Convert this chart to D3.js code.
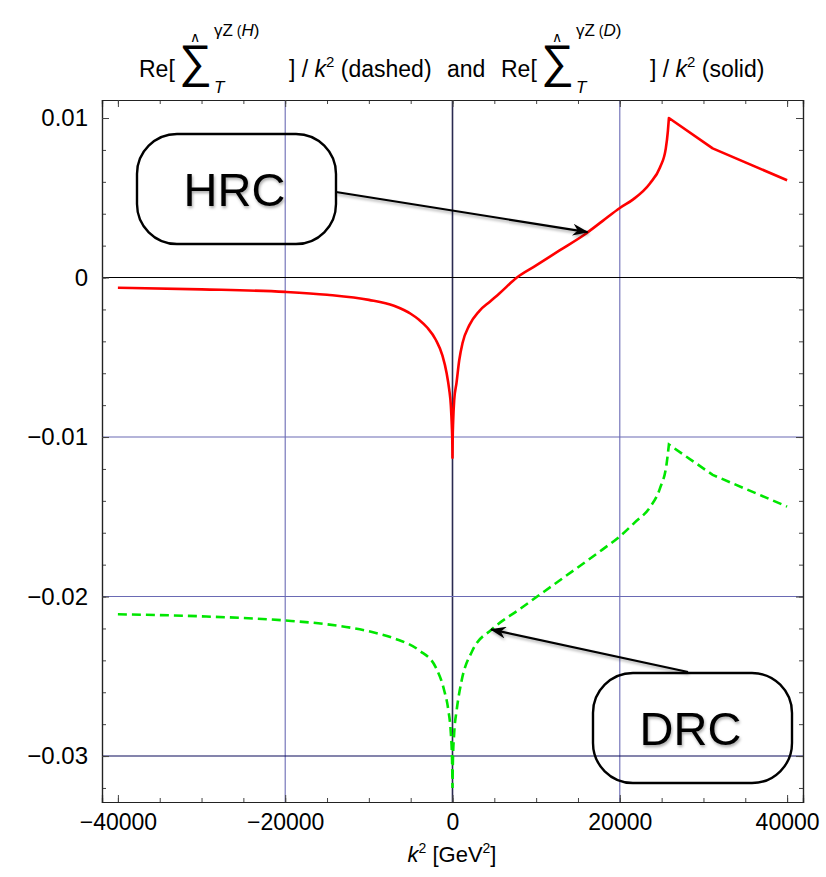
<!DOCTYPE html>
<html>
<head>
<meta charset="utf-8">
<script src="https://cdn.jsdelivr.net/npm/d3@7"></script>
<style>
  html, body { margin: 0; padding: 0; background: #fff; }
  svg { display: block; }
  text { font-family: "Liberation Sans", Arial, Helvetica, sans-serif; }
</style>
</head>
<body>
<svg id="chart" width="826" height="877"></svg>
<script>
// k^2 sample points [GeV^2] and Re[Sigma_T^{gammaZ}]/k^2 values
const solidK = [-40000, -30000, -20000, -15000, -10000, -7000, -5000, -4000, -3000, -2000, -1200, -700, -400, -200, -80, -20, 0,
                20, 80, 200, 480, 800, 1200, 2000, 3200, 4500, 5600, 7700, 10000, 12800, 15800, 17960, 20000, 21600, 23600, 24800, 25500, 25750, 25870,
                31100, 40000];
const solidV = [-0.00064, -0.00074, -0.0009, -0.00108, -0.0014, -0.00177, -0.00227, -0.00265, -0.00315, -0.0039, -0.0049, -0.006, -0.007, -0.008, -0.0093, -0.0104, -0.0113,
                -0.0102, -0.009, -0.0077, -0.0066, -0.0052, -0.0041, -0.003, -0.0021, -0.0015, -0.001, 0.0, 0.00076, 0.0017, 0.0027, 0.00355, 0.00436, 0.0049, 0.0059, 0.0069, 0.0081, 0.0092, 0.0100,
                0.0081, 0.0061];

const dashedK = [-40000, -30000, -20000, -15000, -10000, -7000, -4000, -2000, -1000, -500, -200, -50, 0,
                 50, 200, 500, 1100, 2400, 4700, 8000, 12800, 17960, 20000, 21800, 23600, 24800, 25600, 25870,
                 31100, 40000];
const dashedV = [-0.02111, -0.02124, -0.0215, -0.02174, -0.02218, -0.02262, -0.02337, -0.02444, -0.02587, -0.02712, -0.02857, -0.03026, -0.03201,
                 -0.03026, -0.02857, -0.02712, -0.02525, -0.02337, -0.02206, -0.0208, -0.01899, -0.01704, -0.01623, -0.01535, -0.01441, -0.01322, -0.01166, -0.01047,
                 -0.01237, -0.01436];

const xTicks = [-40000, -20000, 0, 20000, 40000];
const xTickLabels = ["\u221240000", "\u221220000", "0", "20000", "40000"];
const yTicks = [0.01, 0, -0.01, -0.02, -0.03];
const yTickLabels = ["0.01", "0", "\u22120.01", "\u22120.02", "\u22120.03"];

// grid lines: position and colour
const xGrid = [-20000, 0, 20000];
const xGridColor = ["#6a6ab4", "#2a2a50", "#6a6ab4"];
const yGrid = [0, -0.01, -0.02, -0.03];
const yGridColor = ["#000000", "#6a6ab4", "#6a6ab4", "#0a0a5a"];

// the curves are smooth except at the cusp k^2 = 0 and the threshold kinks
const kinks = [0, 25870, 31100];

const frame = { left: 102, right: 803, top: 100, bottom: 802 };

const svg = d3.select("#chart");

const x = d3.scaleLinear().domain([-41900, 41900]).range([frame.left, frame.right]);
const y = d3.scaleLinear().domain([-0.03288, 0.01113]).range([frame.bottom, frame.top]);

const defs = svg.append("defs");
defs.append("clipPath").attr("id", "plotClip")
  .append("rect")
  .attr("x", frame.left).attr("y", frame.top)
  .attr("width", frame.right - frame.left).attr("height", frame.bottom - frame.top);

const shadow = defs.append("filter").attr("id", "softShadow")
  .attr("x", "-20%").attr("y", "-20%").attr("width", "140%").attr("height", "160%");
shadow.append("feDropShadow")
  .attr("dx", 1).attr("dy", 2).attr("stdDeviation", 1.6)
  .attr("flood-color", "#000").attr("flood-opacity", 0.35);

defs.append("marker")
  .attr("id", "arrowHead")
  .attr("viewBox", "0 0 16 12")
  .attr("refX", 15).attr("refY", 6)
  .attr("markerWidth", 16).attr("markerHeight", 12)
  .attr("markerUnits", "userSpaceOnUse")
  .attr("orient", "auto")
  .append("path")
  .attr("d", "M0,0 L16,6 L0,12 L5,6 Z")
  .attr("fill", "#000");

// grid lines
const grid = svg.append("g").attr("clip-path", "url(#plotClip)");
grid.selectAll("line.xg").data(xGrid).join("line")
  .attr("x1", d => x(d)).attr("x2", d => x(d))
  .attr("y1", frame.top).attr("y2", frame.bottom)
  .attr("stroke", (d, i) => xGridColor[i])
  .attr("stroke-width", (d, i) => d === 0 ? 1.6 : 1.1);
grid.selectAll("line.yg").data(yGrid).join("line")
  .attr("y1", d => y(d)).attr("y2", d => y(d))
  .attr("x1", frame.left).attr("x2", frame.right)
  .attr("stroke", (d, i) => yGridColor[i])
  .attr("stroke-width", 1.1);

// curves: smooth pieces joined at the kinks into one path
const smooth = d3.line().x(d => x(d[0])).y(d => y(d[1])).curve(d3.curveMonotoneX);
function piecewisePath(ks, vs) {
  const pts = ks.map((k, i) => [k, vs[i]]);
  const cuts = [ks[0], ...kinks, ks[ks.length - 1]];
  let d = "";
  for (let j = 0; j < cuts.length - 1; j++) {
    const seg = pts.filter(p => p[0] >= cuts[j] && p[0] <= cuts[j + 1]);
    let s = smooth(seg);
    if (j > 0) s = "L" + s.slice(1);
    d += s;
  }
  return d;
}
const curves = svg.append("g").attr("clip-path", "url(#plotClip)");
curves.append("path")
  .attr("d", piecewisePath(dashedK, dashedV))
  .attr("fill", "none")
  .attr("stroke", "#00e600")
  .attr("stroke-width", 2.6)
  .attr("stroke-dasharray", "9,5");
curves.append("path")
  .attr("d", piecewisePath(solidK, solidV))
  .attr("fill", "none")
  .attr("stroke", "#ff0000")
  .attr("stroke-width", 2.6)
  .attr("stroke-linejoin", "round");

// frame with inward ticks on all four sides
const xMinor = d3.range(-40000, 40001, 5000);
const yMinor = d3.range(-32, 11, 2).map(v => v / 1000);

const axisG = svg.append("g");
axisG.append("g").attr("transform", `translate(0,${frame.bottom})`)
  .call(d3.axisBottom(x).tickValues(xMinor).tickSize(-4).tickFormat(""));
axisG.append("g").attr("transform", `translate(0,${frame.bottom})`)
  .call(d3.axisBottom(x).tickValues(xTicks).tickSize(-7).tickPadding(12)
    .tickFormat((d, i) => xTickLabels[i]))
  .selectAll(".tick text").attr("font-size", 23);
axisG.append("g").attr("transform", `translate(0,${frame.top})`)
  .call(d3.axisTop(x).tickValues(xMinor).tickSize(-4).tickFormat(""));
axisG.append("g").attr("transform", `translate(0,${frame.top})`)
  .call(d3.axisTop(x).tickValues(xTicks).tickSize(-7).tickFormat(""));
axisG.append("g").attr("transform", `translate(${frame.left},0)`)
  .call(d3.axisLeft(y).tickValues(yMinor).tickSize(-4).tickFormat(""));
axisG.append("g").attr("transform", `translate(${frame.left},0)`)
  .call(d3.axisLeft(y).tickValues(yTicks).tickSize(-7).tickPadding(14)
    .tickFormat((d, i) => yTickLabels[i]))
  .selectAll(".tick text").attr("font-size", 24);
axisG.append("g").attr("transform", `translate(${frame.right},0)`)
  .call(d3.axisRight(y).tickValues(yMinor).tickSize(-4).tickFormat(""));
axisG.append("g").attr("transform", `translate(${frame.right},0)`)
  .call(d3.axisRight(y).tickValues(yTicks).tickSize(-7).tickFormat(""));

axisG.selectAll(".domain").attr("stroke", "#222").attr("stroke-width", 1.2);
axisG.selectAll(".tick line").attr("stroke", "#444").attr("stroke-width", 1);
axisG.selectAll(".tick text")
  .attr("font-family", "'Liberation Sans', Arial, sans-serif")
  .attr("fill", "#000");

// x-axis title
const xt = svg.append("text")
  .attr("x", 452).attr("y", 862)
  .attr("text-anchor", "middle")
  .attr("font-size", 22);
xt.append("tspan").attr("font-style", "italic").text("k");
xt.append("tspan").attr("font-size", 14).attr("dy", -9).text("2");
xt.append("tspan").attr("dy", 9).text(" [GeV");
xt.append("tspan").attr("font-size", 14).attr("dy", -9).text("2");
xt.append("tspan").attr("dy", 9).text("]");

// title: Re[Σ̂_T^{γZ(H)}] / k² (dashed) and Re[Σ̂_T^{γZ(D)}] / k² (solid)
const title = svg.append("g").attr("font-size", 23);
function sigma(x0, tag) {
  title.append("text").attr("x", x0).attr("y", 77)
    .attr("font-family", "'DejaVu Sans', sans-serif")
    .attr("font-size", 46).text("\u2211");
  title.append("text").attr("x", x0 + 16).attr("y", 42).attr("font-size", 14)
    .attr("text-anchor", "middle").text("\u2227");
  const sup = title.append("text").attr("x", x0 + 35).attr("y", 36).attr("font-size", 17);
  sup.append("tspan").text("\u03B3Z");
  sup.append("tspan").attr("font-size", 14).text(" (");
  sup.append("tspan").attr("font-style", "italic").text(tag);
  sup.append("tspan").text(")");
  title.append("text").attr("x", x0 + 35).attr("y", 93).attr("font-size", 17)
    .attr("font-style", "italic").text("T");
}
function tail(x0, words) {
  const t = title.append("text").attr("x", x0).attr("y", 77);
  t.append("tspan").text("] / ");
  t.append("tspan").attr("font-style", "italic").text("k");
  t.append("tspan").attr("font-size", 15).attr("dy", -10).text("2");
  t.append("tspan").attr("dy", 10).text(words);
}
title.append("text").attr("x", 139).attr("y", 77).text("Re[");
sigma(179, "H");
tail(289, " (dashed)");
title.append("text").attr("x", 447).attr("y", 77).text("and");
title.append("text").attr("x", 501).attr("y", 77).text("Re[");
sigma(541, "D");
tail(650, " (solid)");

// call-outs
const notes = svg.append("g");
function callout(bx, by, bw, bh, label, from, to) {
  notes.append("rect")
    .attr("x", bx).attr("y", by).attr("width", bw).attr("height", bh)
    .attr("rx", 40).attr("ry", 40)
    .attr("fill", "none").attr("stroke", "#000").attr("stroke-width", 2.4);
  notes.append("text")
    .attr("x", bx + bw / 2 - 2).attr("y", by + bh / 2 + 17)
    .attr("text-anchor", "middle")
    .attr("font-family", "Lato, 'Open Sans', sans-serif")
    .attr("font-size", 47)
    .attr("fill", "#000")
    .attr("filter", "url(#softShadow)")
    .text(label);
  notes.append("line")
    .attr("x1", from[0]).attr("y1", from[1])
    .attr("x2", to[0]).attr("y2", to[1])
    .attr("stroke", "#000").attr("stroke-width", 2.2)
    .attr("marker-end", "url(#arrowHead)")
    .attr("filter", "url(#softShadow)");
}
callout(137, 134, 199, 110, "HRC", [336, 192], [x(16150), y(0.00285)]);
callout(593, 673, 199, 110, "DRC", [688, 672], [x(4600), y(-0.02206)]);
</script>
</body>
</html>
